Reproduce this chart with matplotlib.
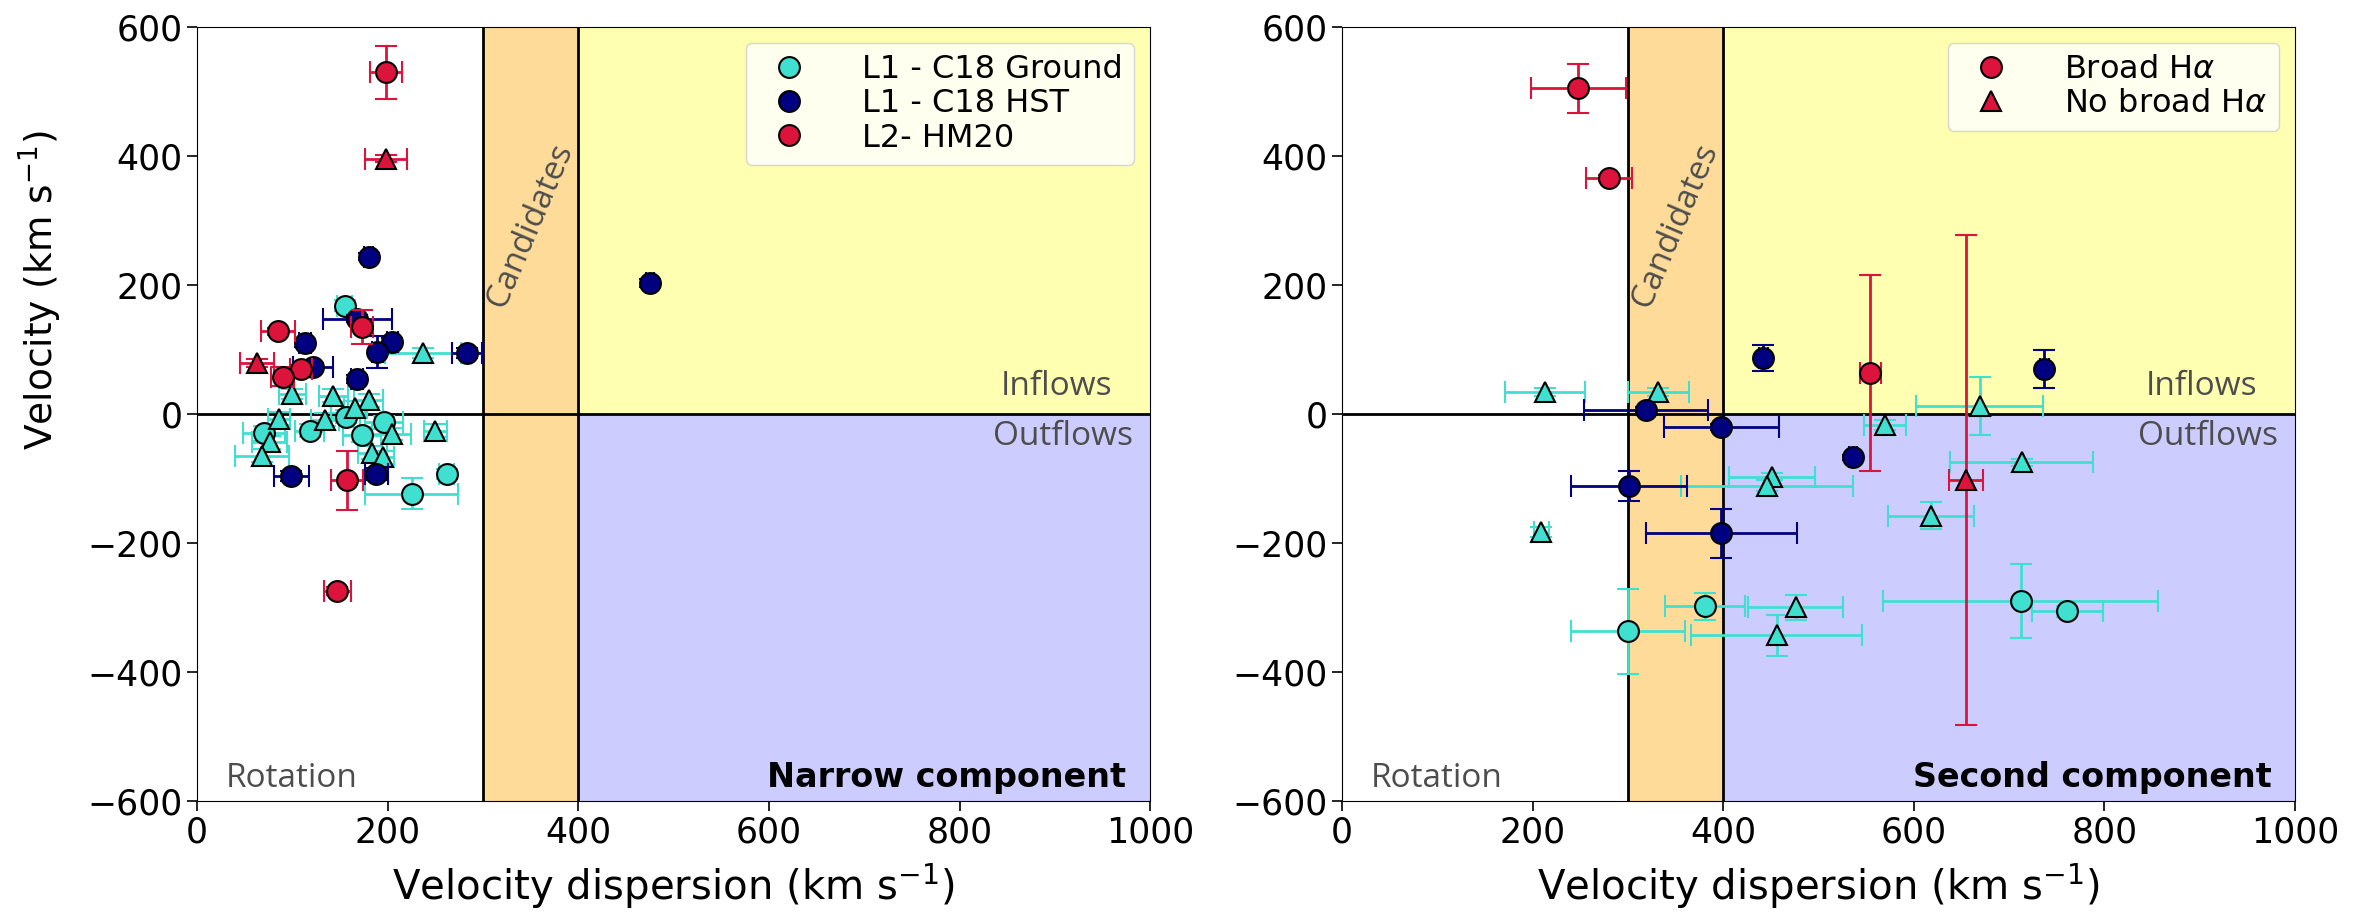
import numpy as np
import matplotlib.pyplot as plt
from matplotlib.lines import Line2D

# ── Data: narrow component (left panel) ──────────────────────
# broad flag: 1 = broad H-alpha (circle), 0 = no broad H-alpha (triangle)

# L1 - C18 Ground
N_GROUND_SIG     = [155, 156, 118, 196, 173, 70, 262, 225,
                    237, 100, 143, 180, 166, 86, 134, 204, 76, 68, 184, 195, 250]
N_GROUND_V       = [168, -4, -26, -13, -32, -30, -93, -124,
                    95, 31, 28, 21, 10, -7, -9, -31, -44, -65, -60, -67, -26]
N_GROUND_SIG_ERR = [8, 15, 15, 20, 20, 22, 8, 49,
                    40, 14, 15, 15, 12, 12, 15, 20, 18, 28, 15, 12, 12]
N_GROUND_V_ERR   = [8, 10, 10, 10, 12, 12, 8, 24,
                    8, 8, 10, 10, 10, 10, 10, 10, 10, 10, 10, 10, 10]
N_GROUND_BROAD   = [1, 1, 1, 1, 1, 1, 1, 1,
                    0, 0, 0, 0, 0, 0, 0, 0, 0, 0, 0, 0, 0]

# L1 - C18 HST
N_HST_SIG     = [180, 168, 113, 205, 189, 283, 122, 168, 99, 188, 475]
N_HST_V       = [244, 148, 110, 112, 96, 95, 73, 54, -96, -93, 203]
N_HST_SIG_ERR = [5, 36, 6, 6, 6, 16, 21, 6, 18, 12, 4]
N_HST_V_ERR   = [6, 6, 6, 6, 25, 8, 6, 6, 8, 10, 6]

# L2 - HM20
N_HM_SIG     = [198, 173, 85, 109, 90, 157, 147, 198, 63]
N_HM_V       = [530, 135, 128, 70, 58, -103, -274, 396, 79]
N_HM_SIG_ERR = [17, 12, 18, 12, 12, 17, 14, 22, 18]
N_HM_V_ERR   = [41, 27, 6, 6, 15, 46, 6, 6, 6]
N_HM_BROAD   = [1, 1, 1, 1, 1, 1, 1, 0, 0]

# ── Data: second component (right panel) ─────────────────────

S_GROUND_SIG     = [381, 300, 712, 761,
                    213, 332, 209, 570, 669, 713, 451, 446, 618, 476, 456]
S_GROUND_V       = [-298, -337, -290, -306,
                    34, 34, -183, -17, 12, -75, -97, -111, -158, -300, -343]
S_GROUND_SIG_ERR = [42, 60, 144, 37,
                    42, 32, 8, 22, 67, 75, 45, 90, 45, 50, 90]
S_GROUND_V_ERR   = [21, 66, 57, 8,
                    6, 6, 8, 8, 45, 5, 5, 8, 21, 20, 32]
S_GROUND_BROAD   = [1, 1, 1, 1,
                    0, 0, 0, 0, 0, 0, 0, 0, 0, 0, 0]

S_HST_SIG     = [442, 319, 398, 301, 398, 536, 737]
S_HST_V       = [87, 6, -20, -112, -185, -67, 70]
S_HST_SIG_ERR = [5, 65, 60, 61, 79, 4, 5]
S_HST_V_ERR   = [20, 5, 5, 23, 38, 4, 29]

S_HM_SIG     = [248, 280, 554, 655]
S_HM_V       = [505, 366, 64, -102]
S_HM_SIG_ERR = [50, 24, 11, 18]
S_HM_V_ERR   = [38, 5, 152, 380]
S_HM_BROAD   = [1, 1, 1, 0]

C_GROUND = "turquoise"
C_HST    = "navy"
C_HM     = "crimson"

plt.rcParams["font.family"] = ["DejaVu Sans"]
plt.rcParams["mathtext.fontset"] = "dejavusans"


def plot_set(ax, sig, v, esig, ev, broad, color, z):
    sig, v, esig, ev = map(np.asarray, (sig, v, esig, ev))
    broad = np.asarray(broad) if broad is not None else np.ones(len(sig), int)
    for flag, marker in ((1, "o"), (0, "^")):
        m = broad == flag
        if not m.any():
            continue
        ax.errorbar(sig[m], v[m], xerr=esig[m], yerr=ev[m], fmt=marker,
                    mfc=color, mec="black", mew=1.5, ms=15,
                    ecolor=color, elinewidth=2, capsize=8, capthick=2,
                    zorder=z)


def setup_regions(ax, label):
    ax.fill_between([400, 1000], 0, 600, color="yellow", alpha=0.3, lw=0, zorder=0)
    ax.fill_between([400, 1000], -600, 0, color="blue", alpha=0.2, lw=0, zorder=0)
    ax.axvspan(300, 400, color="orange", alpha=0.4, lw=0, zorder=0)
    ax.axvline(300, color="black", lw=2, zorder=1)
    ax.axvline(400, color="black", lw=2, zorder=1)
    ax.axhline(0, color="black", lw=2, zorder=1)

    txt = dict(family=["Open Sans", "DejaVu Sans"], color="0.3", fontsize=24)
    ax.text(960, 30, "Inflows", ha="right", va="baseline", **txt)
    ax.text(982, -10, "Outflows", ha="right", va="top", **txt)
    ax.text(30, -578, "Rotation", ha="left", va="baseline", **txt)
    ax.text(350, 292, "Candidates", ha="center", va="center", rotation=67, **txt)
    ax.text(975, -578, label, ha="right", va="baseline",
            fontsize=24, fontweight="bold", color="black")

    ax.set_xlim(0, 1000)
    ax.set_ylim(-600, 600)
    ax.set_xticks(np.arange(0, 1001, 200))
    ax.set_yticks(np.arange(-600, 601, 200))
    ax.tick_params(labelsize=25, length=7, width=1.2)
    ax.set_xlabel(r"Velocity dispersion (km s$^{-1}$)", fontsize=29, labelpad=9)


fig = plt.figure(figsize=(23.69, 9.15), dpi=100)
ax1 = fig.add_axes([0.0832, 0.1246, 0.4023, 0.8459])
ax2 = fig.add_axes([0.5665, 0.1246, 0.4023, 0.8459])

leg_kw = dict(loc="upper right", fontsize=23, framealpha=0.8,
              labelspacing=0.1, borderpad=0.35, handletextpad=1.3)

# left: narrow component
setup_regions(ax1, "Narrow component")
plot_set(ax1, N_GROUND_SIG, N_GROUND_V, N_GROUND_SIG_ERR, N_GROUND_V_ERR, N_GROUND_BROAD, C_GROUND, 3)
plot_set(ax1, N_HST_SIG, N_HST_V, N_HST_SIG_ERR, N_HST_V_ERR, None, C_HST, 4)
plot_set(ax1, N_HM_SIG, N_HM_V, N_HM_SIG_ERR, N_HM_V_ERR, N_HM_BROAD, C_HM, 5)
ax1.set_ylabel(r"Velocity (km s$^{-1}$)", fontsize=27)
ax1.yaxis.set_label_coords(-0.14, 0.66)

handles1 = [Line2D([], [], ls="none", marker="o", ms=15, mfc=c, mec="black", mew=1.5)
            for c in (C_GROUND, C_HST, C_HM)]
ax1.legend(handles1, ["L1 - C18 Ground", "L1 - C18 HST", "L2- HM20"], **leg_kw)

# right: second component
setup_regions(ax2, "Second component")
plot_set(ax2, S_GROUND_SIG, S_GROUND_V, S_GROUND_SIG_ERR, S_GROUND_V_ERR, S_GROUND_BROAD, C_GROUND, 3)
plot_set(ax2, S_HST_SIG, S_HST_V, S_HST_SIG_ERR, S_HST_V_ERR, None, C_HST, 4)
plot_set(ax2, S_HM_SIG, S_HM_V, S_HM_SIG_ERR, S_HM_V_ERR, S_HM_BROAD, C_HM, 5)

handles2 = [Line2D([], [], ls="none", marker=m, ms=15, mfc=C_HM, mec="black", mew=1.5)
            for m in ("o", "^")]
ax2.legend(handles2, [r"Broad H$\alpha$", r"No broad H$\alpha$"], **leg_kw)

fig.savefig("out.png", dpi=100)
